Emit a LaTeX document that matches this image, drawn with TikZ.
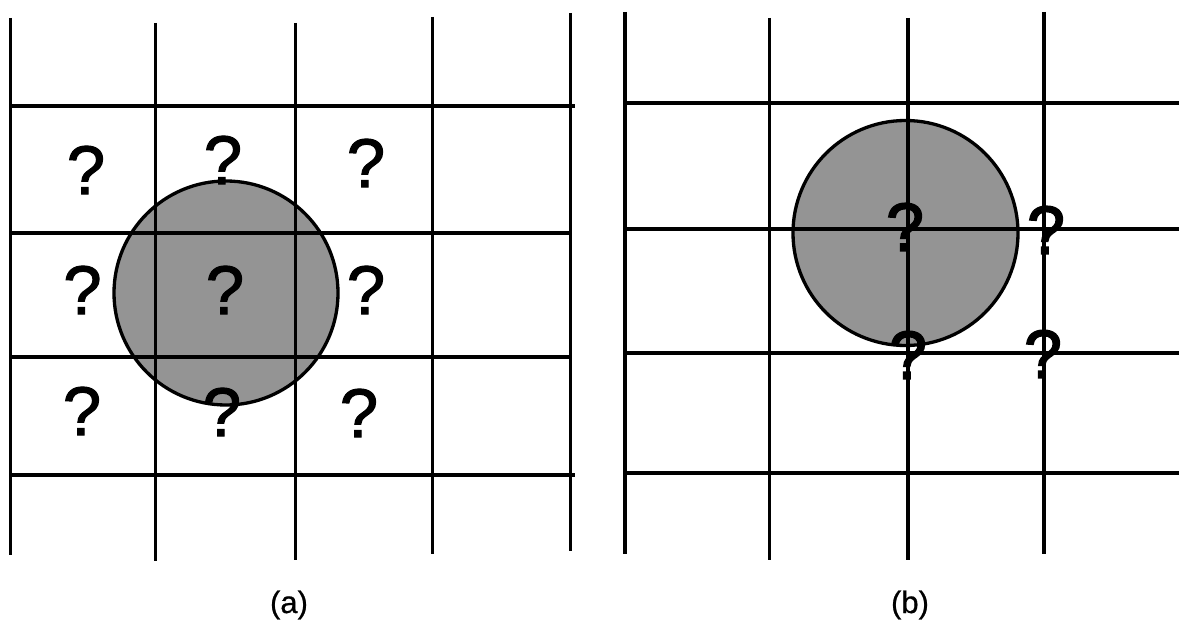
\documentclass[tikz,border=0pt]{standalone}
\usepackage{fontspec}
\setmainfont{Liberation Sans}
\newfontfamily\qfonta[FakeBold=1.6]{Liberation Sans}
\newfontfamily\qfontb[FakeBold=2.4]{Liberation Sans}
\newfontfamily\capfont[FakeBold=0.6]{Liberation Sans}
\begin{document}
\begin{tikzpicture}[x=1pt,y=-1pt,
  gridline/.style={line width=3.3pt},
  disc/.style={fill=black!42},
  rim/.style={line width=3.3pt},
  qmark/.style={inner sep=0pt, font=\qfonta\fontsize{69}{80}\selectfont},
  qmarkb/.style={inner sep=0pt, font=\qfontb\fontsize{68}{80}\selectfont},
  caption/.style={inner sep=0pt, font=\capfont\fontsize{31}{36}\selectfont}]
\useasboundingbox (0,0) rectangle (1179,623);
\fill[white] (0,0) rectangle (1179,623);
% ---------- panel (a) ----------
\fill[disc] (226,293) circle[radius=112];
\draw[gridline] (10.7,18) -- (10.7,555);
\draw[gridline] (155.3,23) -- (155.3,561);
\draw[gridline] (295.4,23) -- (295.4,560);
\draw[gridline] (432.3,17) -- (432.3,554);
\draw[gridline] (570.5,13) -- (570.5,551);
\draw[gridline] (9.5,106) -- (575,106);
\draw[gridline] (9.5,233) -- (570.5,233);
\draw[gridline] (9.5,357) -- (570.5,357);
\draw[gridline] (9.5,475) -- (575,475);
\draw[rim] (226,293) circle[radius=112];
\node[qmark] (a11) at (86,170) {?};
\node[qmark] (a12) at (223,160) {?};
\node[qmark] (a13) at (366,163) {?};
\node[qmark] (a21) at (82.5,290) {?};
\node[qmark] (a22) at (225,290) {?};
\node[qmark] (a23) at (366,290) {?};
\node[qmark] (a31) at (82,411) {?};
\node[qmark] (a32) at (222,412) {?};
\node[qmark] (a33) at (359,413) {?};
\node[caption] (la) at (289,605) {(a)};
% ---------- panel (b) ----------
\fill[disc] (905.5,233) circle[radius=112.5];
\draw[gridline] (625,12) -- (625,554);
\draw[gridline] (769.6,18) -- (769.6,559.5);
\draw[gridline] (908,18) -- (908,559.5);
\draw[gridline] (1044,12) -- (1044,554);
\draw[gridline] (623.4,103) -- (1179,103);
\draw[gridline] (623.4,229) -- (1179,229);
\draw[gridline] (623.4,353) -- (1179,353);
\draw[gridline] (623.4,473) -- (1179,473);
\draw[rim] (905.5,233) circle[radius=112.5];
\node[qmarkb] (b1) at (905,227) {?};
\node[qmarkb] (b2) at (1046,230) {?};
\node[qmarkb] (b3) at (908,355) {?};
\node[qmarkb] (b4) at (1043,354) {?};
\node[caption] (lb) at (910,605) {(b)};
\end{tikzpicture}
\end{document}
